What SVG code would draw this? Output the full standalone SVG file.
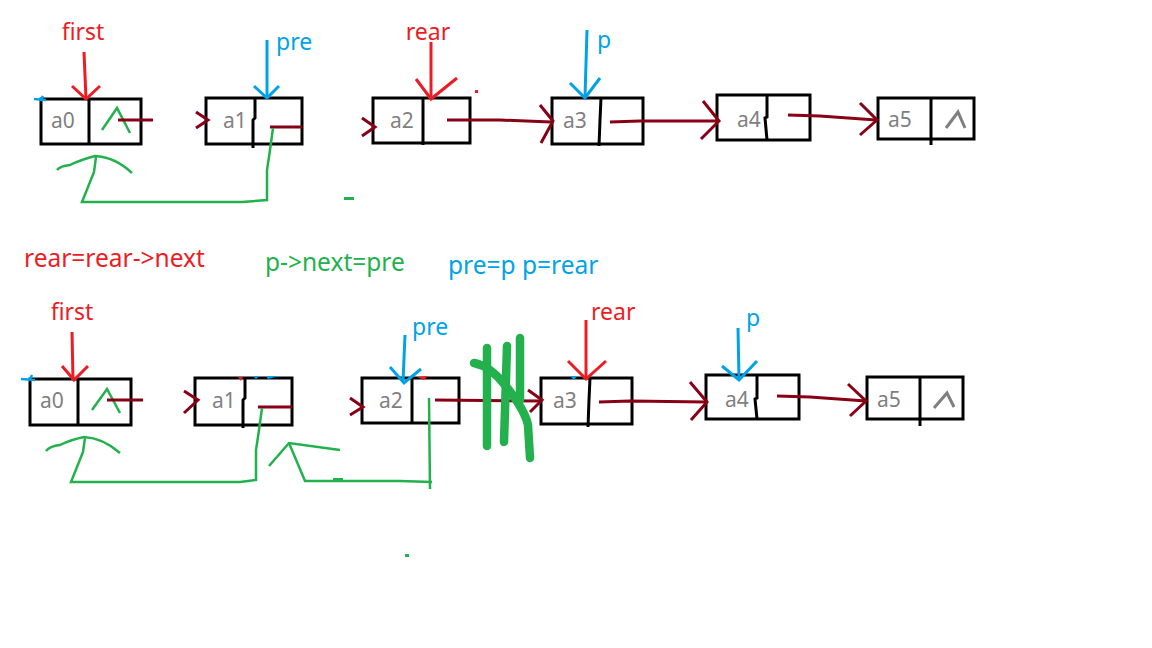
<svg xmlns="http://www.w3.org/2000/svg" width="1152" height="648" viewBox="0 0 1152 648">
<style>
.box{fill:none;stroke:#000;stroke-width:3}
.div{fill:none;stroke:#000;stroke-width:3}
.lbl{font-family:"Noto Sans","Open Sans",sans-serif;font-size:21px;fill:#7f7f7f}
.red{font-family:"Noto Sans","Open Sans",sans-serif;font-size:23px;fill:#ed1c24}
.blue{font-family:"Noto Sans","Open Sans",sans-serif;font-size:23px;fill:#00a2e8}
.grn{font-family:"Noto Sans","Open Sans",sans-serif;font-size:23px;fill:#22b14c}
.mid{font-size:24.5px}
.lr{fill:none;stroke:#880015;stroke-width:3}
.pr{fill:none;stroke:#ed1c24;stroke-width:3}
.pb{fill:none;stroke:#00a2e8;stroke-width:3}
.g{fill:none;stroke:#22b14c;stroke-width:2.5}
.gt{fill:none;stroke:#22b14c;stroke-width:8.5;stroke-linecap:round}
.gray{fill:none;stroke:#7f7f7f;stroke-width:3}
</style>
<rect width="1152" height="648" fill="#fff"/>

<!-- top row nodes -->
<g id="t-a0">
<rect class="box" x="41" y="99" width="100" height="45"/>
<line class="div" x1="89" y1="99" x2="89" y2="144"/>
<text class="lbl" x="51" y="128">a0</text>
<polyline class="g" points="102,130 117,108 130,133"/>
</g>
<g id="t-a1">
<rect class="box" x="206" y="98" width="96" height="46"/>
<polyline class="div" points="255,98 255,118 253,120 253,148"/>
<text class="lbl" x="223" y="128">a1</text>
</g>
<g id="t-a2">
<rect class="box" x="373" y="98" width="97" height="45"/>
<line class="div" x1="423" y1="98" x2="423" y2="145"/>
<text class="lbl" x="390" y="128">a2</text>
</g>
<g id="t-a3">
<rect class="box" x="552" y="98" width="91" height="46"/>
<polyline class="div" points="601,98 600,120 599,146"/>
<text class="lbl" x="563" y="128">a3</text>
</g>
<g id="t-a4">
<rect class="box" x="717" y="95" width="93" height="45"/>
<polyline class="div" points="767,95 767,117 765,118 767,140"/>
<text class="lbl" x="737" y="127">a4</text>
</g>
<g id="t-a5">
<rect class="box" x="878" y="98" width="96" height="41"/>
<line class="div" x1="931" y1="98" x2="931" y2="145"/>
<text class="lbl" x="888" y="127">a5</text>
<polyline class="gray" points="946,128 958,112 965,128"/>
</g>

<!-- bottom row nodes -->
<g id="b-a0">
<rect class="box" x="30" y="379" width="101" height="46"/>
<line class="div" x1="78" y1="379" x2="78" y2="425"/>
<text class="lbl" x="40" y="408">a0</text>
<polyline class="g" points="92,410 107,389 120,413"/>
</g>
<g id="b-a1">
<rect class="box" x="195" y="378" width="97" height="47"/>
<polyline class="div" points="245,378 245,398 243,400 243,428"/>
<text class="lbl" x="212" y="408">a1</text>
</g>
<g id="b-a2">
<rect class="box" x="362" y="378" width="97" height="45"/>
<line class="div" x1="412" y1="378" x2="412" y2="424"/>
<text class="lbl" x="379" y="408">a2</text>
</g>
<g id="b-a3">
<rect class="box" x="541" y="378" width="91" height="46"/>
<polyline class="div" points="590,378 589,400 588,427"/>
<text class="lbl" x="553" y="408">a3</text>
</g>
<g id="b-a4">
<rect class="box" x="706" y="375" width="93" height="44"/>
<polyline class="div" points="757,375 757,398 755,399 757,419"/>
<text class="lbl" x="725" y="407">a4</text>
</g>
<g id="b-a5">
<rect class="box" x="867" y="377" width="96" height="42"/>
<line class="div" x1="920" y1="377" x2="920" y2="426"/>
<text class="lbl" x="877" y="407">a5</text>
<polyline class="gray" points="934,408 947,393 954,407"/>
</g>

<!-- labels -->
<g id="labels">
<text class="red" x="83" y="40" text-anchor="middle">first</text>
<text class="blue" x="276" y="50">pre</text>
<text class="red" x="428" y="40" text-anchor="middle">rear</text>
<text class="blue" x="597" y="48">p</text>
<text class="red mid" x="24" y="267">rear=rear-&gt;next</text>
<text class="grn mid" x="265" y="271">p-&gt;next=pre</text>
<text class="blue mid" x="448" y="274">pre=p p=rear</text>
<text class="red" x="72" y="320" text-anchor="middle">first</text>
<text class="blue" x="412" y="335">pre</text>
<text class="red" x="591" y="320">rear</text>
<text class="blue" x="746" y="326">p</text>
</g>

<!-- connectors -->
<g id="connectors">
<!-- top pointers -->
<polyline class="pr" points="84,52 86,99"/>
<polyline class="pr" points="72,86 86,99 100,86"/>
<polyline class="pb" points="267,40 267,97"/>
<polyline class="pb" points="254,86 267,98 279,86"/>
<polyline class="pr" points="431,42 431,98"/>
<polyline class="pr" points="416,79 431,99 457,78"/>
<polyline class="pb" points="587,30 585,97"/>
<polyline class="pb" points="570,83 585,98 600,78"/>
<path d="M34,99 L46,100 M43,96 L40,101" stroke="#00a2e8" stroke-width="2.5" fill="none"/>
<rect x="475" y="90" width="3" height="3" fill="#ed1c24"/>
<!-- top links -->
<polyline class="lr" points="118,120 153,120"/>
<polyline class="lr" points="196,112 208,120 196,128"/>
<polyline class="lr" points="270,127 302,127"/>
<polyline class="lr" points="362,118 375,127 362,136"/>
<polyline class="lr" points="447,120 500,120 551,122"/>
<polyline class="lr" points="540,105 553,121 541,143"/>
<polyline class="lr" points="610,122 640,121 718,121"/>
<polyline class="lr" points="703,101 719,121 701,139"/>
<polyline class="lr" points="788,115 820,116 876,120"/>
<polyline class="lr" points="860,103 877,120 860,135"/>
<!-- top green -->
<path class="g" d="M57,170 Q60,166 70,165 Q80,160 95,156 Q115,157 132,173"/>
<polyline class="g" points="96,157 94,172 82,202 242,202 267,200 267,170 270,150 273,128"/>
<rect x="344" y="197" width="10" height="3" fill="#22b14c"/>

<!-- bottom pointers -->
<polyline class="pr" points="72,332 73,380"/>
<polyline class="pr" points="62,366 74,380 88,366"/>
<polyline class="pb" points="405,335 403,382"/>
<polyline class="pb" points="390,367 404,383 421,369"/>
<polyline class="pr" points="586,320 586,379"/>
<polyline class="pr" points="568,361 586,379 606,361"/>
<polyline class="pb" points="738,328 739,380"/>
<polyline class="pb" points="722,366 739,380 757,361"/>
<path d="M21,379 L35,380 M32,375 L29,381" stroke="#00a2e8" stroke-width="2.5" fill="none"/>
<path d="M238,377 L243,377 L241,381 Z" fill="#ed1c24"/>
<path d="M253,376 L259,376 L256,379 Z M266,376 L279,376 L268,379 Z" fill="#00a2e8"/>
<path d="M417,377 L428,376 L424,380 Z" fill="#ed1c24"/>
<path d="M570,376 L577,376 L574,380 Z" fill="#00a2e8"/>
<!-- bottom links -->
<polyline class="lr" points="107,400 143,400"/>
<polyline class="lr" points="184,391 198,400 184,413"/>
<polyline class="lr" points="258,407 292,407"/>
<polyline class="lr" points="350,398 363,407 350,415"/>
<polyline class="lr" points="435,400 540,401"/>
<polyline class="lr" points="528,390 542,400 530,412"/>
<polyline class="lr" points="599,402 630,401 706,402"/>
<polyline class="lr" points="690,382 707,402 691,420"/>
<polyline class="lr" points="777,396 810,397 866,401"/>
<polyline class="lr" points="848,384 866,401 850,416"/>
<!-- bottom green -->
<path class="g" d="M46,451 Q50,446 60,445 Q70,440 84,437 Q103,438 120,453"/>
<polyline class="g" points="85,438 83,452 71,482 240,482 256,480 256,450 259,430 262,408"/>
<polyline class="g" points="269,466 289,443 340,450"/>
<polyline class="g" points="289,443 305,481 400,481 432,482"/>
<polyline class="g" points="429,398 430,489"/>
<rect x="333" y="478" width="10" height="3" fill="#22b14c"/>
<rect x="405" y="554" width="4" height="3" fill="#22b14c"/>
<!-- green strike -->
<line class="gt" x1="487" y1="348" x2="487" y2="446"/>
<line class="gt" x1="507" y1="346" x2="504" y2="442"/>
<line class="gt" x1="520" y1="338" x2="520" y2="400"/>
<path class="gt" d="M474,363 Q490,366 505,385 Q525,410 528,425 L530,458"/>
</g>
</svg>
